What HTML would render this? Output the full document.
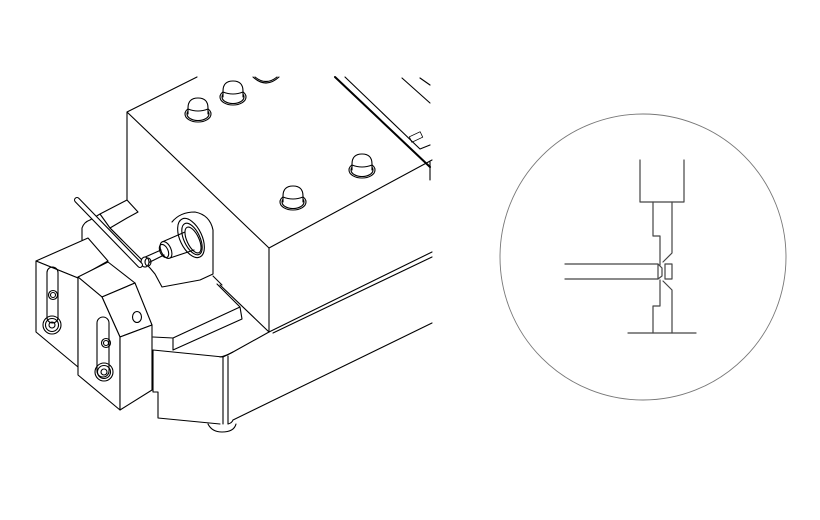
<!DOCTYPE html>
<html><head><meta charset="utf-8"><style>html,body{margin:0;padding:0;background:#fff}svg{display:block}</style></head>
<body>
<svg width="820" height="520" viewBox="0 0 820 520" xmlns="http://www.w3.org/2000/svg" fill="none" stroke="#000" stroke-width="1.1" stroke-linejoin="round" stroke-linecap="round">
<!-- base -->
<path d="M223 357 L233 352 L269 332 M273 333 L432 257 M269 332 L432 252"/>
<path d="M220 357 Q226 356 233 352"/>
<path d="M223 357 L223 424 M228 356 L228 424"/>
<path d="M233 420 L432 323 M228 424 Q232 423 233 420"/>
<path d="M153 350 L223 357 M153 350 L153 392 L158 392 L158 418 L220 424"/>
<path d="M208 424 Q212 432 222 432 Q234 432 236 424"/>
<!-- slab -->
<path d="M153 337 L173 338 L240 307 L242 319 L173 350 L173 338 M240 307 L217 284"/>
<path d="M213 276 L222 285"/>
<!-- main box -->
<path d="M127 112 L197 77 M127 112 L127 200 M127 112 L269 248 L269 332 M269 248 L432 160 M220 285 L269 332"/>
<!-- panel lines -->
<path d="M335 77 L430 167" stroke-width="2"/>
<path d="M345 77 L420 149 L430 145 M402 78 L430 103 M420 78 L430 85 M430 162 L430 180"/>
<rect x="410" y="134" width="12" height="6" transform="rotate(-25 416 137)" stroke-width="0.8"/>
<!-- buttons -->
<g stroke-width="1.1">
<g transform="translate(198 110)"><ellipse cx="0" cy="4" rx="13" ry="8"/><ellipse cx="0" cy="4" rx="11" ry="6.5"/><path d="M-10 4 L-10 -2 Q-10 -12 0 -12 Q10 -12 10 -2 L10 4" fill="#fff"/><path d="M-10 -1 Q0 3 10 -1"/></g>
<g transform="translate(233 93)"><ellipse cx="0" cy="4" rx="13" ry="8"/><ellipse cx="0" cy="4" rx="11" ry="6.5"/><path d="M-10 4 L-10 -2 Q-10 -12 0 -12 Q10 -12 10 -2 L10 4" fill="#fff"/><path d="M-10 -1 Q0 3 10 -1"/></g>
<g transform="translate(266 77)"><path d="M-13 0 Q0 12 13 0 M-11 0 Q0 9 11 0"/></g>
<g transform="translate(362 166)"><ellipse cx="0" cy="4" rx="13" ry="8"/><ellipse cx="0" cy="4" rx="11" ry="6.5"/><path d="M-10 4 L-10 -2 Q-10 -12 0 -12 Q10 -12 10 -2 L10 4" fill="#fff"/><path d="M-10 -1 Q0 3 10 -1"/></g>
<g transform="translate(293 198)"><ellipse cx="0" cy="4" rx="13" ry="8"/><ellipse cx="0" cy="4" rx="11" ry="6.5"/><path d="M-10 4 L-10 -2 Q-10 -12 0 -12 Q10 -12 10 -2 L10 4" fill="#fff"/><path d="M-10 -1 Q0 3 10 -1"/></g>
</g>
<!-- back bracket -->
<path d="M82 240 L82 228 Q84 222 90 220 L100 214 L127 200 L138 212 L127 218 L110 228 M100 214 L110 228 L122 240" />
<path d="M110 228 L150 268 L155 274 L162 287 L200 280 L213 274 L213 230 Q210 215 195 212 Q180 212 172 222"/>
<!-- spindle -->
<ellipse cx="191" cy="238" rx="11" ry="21" transform="rotate(-25 191 238)" fill="#fff"/>
<ellipse cx="192" cy="239" rx="8" ry="17" transform="rotate(-25 192 239)"/>
<ellipse cx="193" cy="240" rx="6" ry="14" transform="rotate(-25 193 240)"/>
<path d="M162 242 L185 232 M170 258 L194 250" />
<ellipse cx="166" cy="250" rx="5" ry="9" transform="rotate(-25 166 250)" fill="#fff"/>
<ellipse cx="164" cy="251" rx="4" ry="7" transform="rotate(-25 164 251)"/>
<path d="M143 258 L161 250 M146 264 L164 255"/>
<ellipse cx="145" cy="262" rx="4" ry="5" fill="#fff"/>
<ellipse cx="148" cy="262" rx="3" ry="4"/>
<!-- hex key -->
<path d="M77 200 L140 265" stroke-width="6"/>
<path d="M77 200 L140 265" stroke="#fff" stroke-width="3.8"/>
<!-- block A -->
<path d="M36 261 L88 238 L108 261 L78 278 Z" fill="#fff"/>
<path d="M36 261 L78 278 L78 367 L36 332 Z" fill="#fff"/>
<rect x="47" y="267" width="11" height="56" rx="5.5"/>
<circle cx="52" cy="325" r="9"/><circle cx="52" cy="325" r="6.5"/><circle cx="52" cy="325" r="3"/>
<circle cx="53" cy="295" r="4.5"/><circle cx="53" cy="295" r="2.5"/>
<!-- block B -->
<path d="M78 277 L108 262 L135 283 L102 297 Z" fill="#fff"/>
<path d="M102 297 L135 283 L152 325 L120 337 Z" fill="#fff"/>
<path d="M78 277 L102 297 L120 337 L120 410 L78 375 Z" fill="#fff"/>
<path d="M120 337 L152 325 L152 390 L120 410 Z" fill="#fff"/>
<ellipse cx="137" cy="317" rx="4.5" ry="5.5"/>
<rect x="97" y="317" width="12" height="60" rx="6"/>
<circle cx="104" cy="372" r="9"/><circle cx="104" cy="372" r="6.5"/><circle cx="104" cy="372" r="3"/>
<circle cx="106" cy="343" r="4.5"/><circle cx="106" cy="343" r="2.5"/>
<!-- detail circle -->
<circle cx="643" cy="257" r="143" stroke="#777" stroke-width="0.9"/>
<g stroke="#444" stroke-width="1.2">
<path d="M640 160 L640 202 L684 202 L684 160"/>
<path d="M653 202 L653 236 L660 236 L660 265 M660 280 L660 306 L653 306 L653 333"/>
<path d="M672 202 L672 253 L663 262 M663 281 L672 290 L672 333"/>
<path d="M628 333 L696 333"/>
<path d="M565 264 L658 264 M565 279 L658 279"/>
<path d="M658 264 L662 268 L662 276 L658 279 Z"/>
<rect x="665" y="264" width="7" height="15"/>
</g>
</svg>
</body></html>
